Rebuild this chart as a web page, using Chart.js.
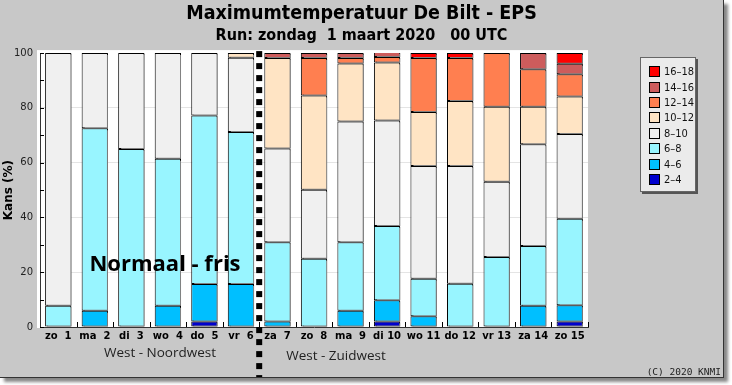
<!DOCTYPE html>
<html>
<head>
<meta charset="utf-8">
<script src="https://cdn.jsdelivr.net/npm/chart.js@4/dist/chart.umd.min.js"></script>
<style>
    html, body { margin: 0; padding: 0; background: #fff; }
    #panel {
        position: absolute; left: 0; top: 0;
        width: 723px; height: 377px;
        background: #c8c8c8;
        border-right: 1px solid #333;
        border-bottom: 1px solid #333;
        box-shadow: 4px 4px 3px #888;
    }
    #chart { position: absolute; left: 0; top: 0; }
    #legend {
        position: absolute; left: 640px; top: 57px;
        width: 54px; padding: 6px 0 4px 0;
        background: #ebebeb;
        border: 1px solid #666;
        box-shadow: 2px 2px 0 #555;
        font: 11px "DejaVu Sans Condensed", "DejaVu Sans", sans-serif;
        color: #111;
    }
    .item { height: 15.4px; display: flex; align-items: center; }
    .box { width: 9px; height: 9px; border: 1px solid #000; margin: 0 4px 0 8px; }
</style>
</head>
<body>
<div id="panel">
    <canvas id="chart" width="723" height="377"></canvas>
    <div id="legend"></div>
</div>
<script>
// ================================
// Data
// ================================
const days = ["zo  1", "ma  2", "di  3", "wo  4", "do  5", "vr  6", "za  7", "zo  8",
    "ma  9", "di 10", "wo 11", "do 12", "vr 13", "za 14", "zo 15"];

const classes = ["2–4", "4–6", "6–8", "8–10", "10–12", "12–14", "14–16", "16–18"];
const colors = ["#0000cd", "#00bfff", "#98f5ff", "#f0f0f0", "#ffe4c4", "#ff7f50", "#cd5c5c", "#ff0000"];

const p2_4   = [0, 0, 0, 0, 2, 0, 0, 0, 0, 2, 0, 0, 0, 0, 2];
const p4_6   = [0, 5.9, 0, 7.8, 13.7, 15.7, 2, 0, 5.9, 7.8, 3.9, 0, 0, 7.8, 5.9];
const p6_8   = [7.8, 66.7, 65, 53.6, 61.5, 55.5, 28.9, 24.9, 25, 27.1, 13.7, 15.8, 25.6, 21.8, 31.6];
const p8_10  = [92.2, 27.4, 35, 38.6, 22.8, 27.1, 34.3, 25.2, 44.1, 38.5, 41.2, 43, 27.4, 37.1, 31];
const p10_12 = [0, 0, 0, 0, 0, 1.7, 33, 34.4, 21.2, 21.2, 19.7, 23.7, 27.4, 13.7, 13.7];
const p12_14 = [0, 0, 0, 0, 0, 0, 0, 13.7, 2, 2, 19.7, 15.7, 19.6, 13.7, 8.1];
const p14_16 = [0, 0, 0, 0, 0, 0, 1.8, 1.8, 1.8, 1.8, 0, 0, 0, 5.9, 3.8];
const p16_18 = [0, 0, 0, 0, 0, 0, 0, 0, 0, 0, 1.8, 1.8, 0, 0, 3.9];

const series = [p2_4, p4_6, p6_8, p8_10, p10_12, p12_14, p14_16, p16_18];

const yTicks = [0, 20, 40, 60, 80, 100];

// ================================
// Plugins
// ================================
const plotBackground = {
    id: "plotBackground",
    beforeDraw(chart) {
        const { ctx, chartArea: a } = chart;
        ctx.save();
        ctx.fillStyle = "#fff";
        ctx.fillRect(a.left - 3, a.top - 3, a.right - a.left + 3, a.bottom - a.top + 4);
        ctx.restore();
    },
};

const barShadow = {
    id: "barShadow",
    beforeDatasetsDraw(chart) {
        const ctx = chart.ctx;
        ctx.save();
        ctx.shadowColor = "#808080";
        ctx.shadowOffsetX = 2;
        ctx.shadowOffsetY = 1;
        ctx.shadowBlur = 0;
    },
    afterDatasetsDraw(chart) {
        chart.ctx.restore();
    },
};

const extras = {
    id: "extras",
    afterDraw(chart) {
        const { ctx, chartArea: a, scales: { x, y } } = chart;
        ctx.save();

        // inward minor ticks on the y axis
        ctx.strokeStyle = "#000";
        ctx.lineWidth = 1;
        for (let v = 0; v <= 100; v += 10) {
            const py = Math.round(y.getPixelForValue(v)) + 0.5;
            ctx.beginPath();
            ctx.moveTo(a.left, py);
            ctx.lineTo(a.left + 4, py);
            ctx.stroke();
        }
        // small ticks between the days
        for (let i = 0; i < days.length; i++) {
            const px = Math.round(x.getPixelForValue(i + 0.5)) + 0.5;
            ctx.beginPath();
            ctx.moveTo(px, a.bottom);
            ctx.lineTo(px, a.bottom - 5);
            ctx.stroke();
        }

        // dotted separator between the two wind regimes
        const sx = x.getPixelForValue(5.5);
        ctx.strokeStyle = "#000";
        ctx.lineWidth = 6;
        ctx.setLineDash([6, 6]);
        ctx.beginPath();
        ctx.moveTo(sx, a.top - 2);
        ctx.lineTo(sx, chart.height);
        ctx.stroke();
        ctx.setLineDash([]);

        // annotations
        ctx.fillStyle = "#000";
        ctx.textAlign = "center";
        ctx.textBaseline = "middle";
        ctx.font = "bold 22px 'Open Sans', sans-serif";
        ctx.fillText("Normaal - fris", 165, 265);

        ctx.fillStyle = "#222";
        ctx.font = "13.5px 'Open Sans', sans-serif";
        ctx.fillText("West - Noordwest", 160, 353);
        ctx.fillText("West - Zuidwest", 336, 356);

        ctx.textAlign = "right";
        ctx.font = "9.5px 'DejaVu Sans Mono', monospace";
        ctx.fillText("(C) 2020 KNMI", 721, 373);
        ctx.restore();
    },
};

// ================================
// Chart
// ================================
function initializeChart() {
    Chart.defaults.font.family = "'DejaVu Sans', sans-serif";
    Chart.defaults.color = "#000";

    // empty classes are left out so they draw no zero-height outline
    const datasets = series.map((values, i) => ({
        label: classes[i],
        data: values.map((v) => (v > 0 ? v : null)),
        backgroundColor: colors[i],
        borderColor: "#000",
        borderWidth: 1,
        borderSkipped: false,
        barPercentage: 0.72,
        categoryPercentage: 1,
    }));

    // html legend, top class first
    const legend = document.getElementById("legend");
    for (let i = classes.length - 1; i >= 0; i--) {
        const row = document.createElement("div");
        row.className = "item";
        row.innerHTML = `<span class="box" style="background:${colors[i]}"></span>${classes[i]}`;
        legend.appendChild(row);
    }

    new Chart(document.getElementById("chart"), {
        type: "bar",
        data: { labels: days, datasets },
        options: {
            responsive: false,
            animation: false,
            layout: { padding: 0 },
            plugins: {
                legend: { display: false },
                tooltip: { enabled: false },
                title: {
                    display: true,
                    text: "Maximumtemperatuur De Bilt - EPS",
                    font: { family: "'DejaVu Sans Condensed', 'DejaVu Sans'", size: 19.5, weight: "bold" },
                    color: "#000",
                    padding: { top: 2, bottom: 1 },
                },
                subtitle: {
                    display: true,
                    text: "Run: zondag  1 maart 2020   00 UTC",
                    font: { family: "'DejaVu Sans Condensed', 'DejaVu Sans'", size: 16, weight: "bold" },
                    color: "#000",
                    padding: { top: 0, bottom: 7.5 },
                },
            },
            scales: {
                x: {
                    stacked: true,
                    grid: { display: false },
                    border: { color: "#333" },
                    ticks: {
                        font: { size: 10, weight: "bold" },
                        padding: -5,
                        maxRotation: 0,
                        autoSkip: false,
                    },
                    afterFit(scale) { scale.height = 50; },
                },
                y: {
                    stacked: true,
                    min: 0,
                    max: 100,
                    border: { color: "#333" },
                    grid: {
                        color: (c) => (c.tick.value % 20 === 0 && c.tick.value > 0 && c.tick.value < 100 ? "#e4e4e4" : "transparent"),
                        drawTicks: false,
                    },
                    afterBuildTicks(scale) {
                        scale.ticks = yTicks.map((v) => ({ value: v }));
                    },
                    ticks: {
                        font: { size: 10 },
                        color: "#222",
                        padding: 7,
                    },
                    title: {
                        display: true,
                        text: "Kans (%)",
                        font: { size: 12, weight: "bold" },
                        padding: { top: 2, bottom: 0 },
                    },
                    afterFit(scale) { scale.width = 40; },
                },
                // empty right-hand strip that holds the legend
                side: {
                    type: "linear",
                    position: "right",
                    grid: { display: false },
                    border: { display: false },
                    ticks: { display: false },
                    afterFit(scale) { scale.width = 135; },
                },
            },
        },
        plugins: [plotBackground, barShadow, extras],
    });
}

document.addEventListener("DOMContentLoaded", initializeChart);
</script>
</body>
</html>
